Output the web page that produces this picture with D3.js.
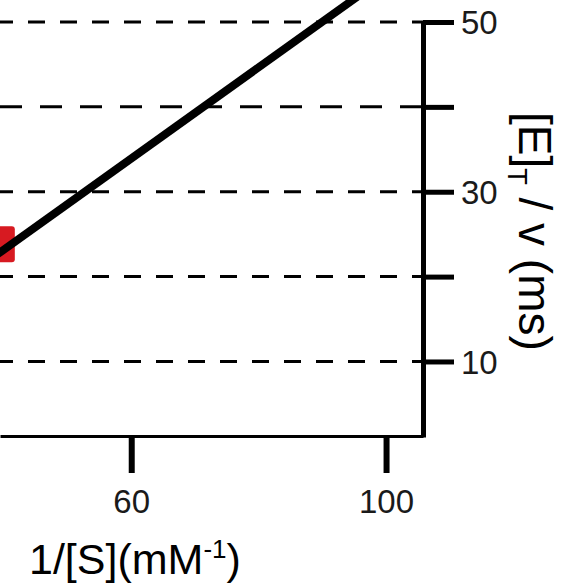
<!DOCTYPE html>
<html>
<head>
<meta charset="utf-8">
<script src="https://cdn.jsdelivr.net/npm/d3@7"></script>
<style>
  body { margin: 0; background: #fff; }
  svg { display: block; font-family: "Liberation Sans", Arial, sans-serif; }
</style>
</head>
<body>
<div id="chart"></div>
<script>
// data
var yTickValues = [10, 20, 30, 40, 50];
var yTickLabels = ["10", "", "30", "", "50"];
var xTickValues = [60, 100];
var xTickLabels = ["60", "100"];

// measured point (red square)
var pointX = [38.9];
var pointY = [23.8];

// fitted line, two ends (clipped by the page)
var fitX = [30, 100];
var fitY = [17.8, 55.4];

var svgWidth = 570;
var svgHeight = 584;

var svg = d3.select("#chart")
  .append("svg")
  .attr("width", svgWidth)
  .attr("height", svgHeight);

svg.append("rect")
  .attr("width", svgWidth)
  .attr("height", svgHeight)
  .attr("fill", "#fff");

// scales: the visible part of the plot is only the right end of the figure
var axisX = 423;   // where the y axis sits
var axisY = 436;   // where the x axis sits

var xScale = d3.scaleLinear().domain([39.4, 105.8]).range([0, axisX]);
var yScale = d3.scaleLinear().domain([1.1, 50]).range([437, 22]);

// dashed grid lines
svg.append("g")
  .selectAll("line")
  .data(yTickValues)
  .enter()
  .append("line")
  .attr("x1", 0)
  .attr("x2", axisX)
  .attr("y1", d => yScale(d))
  .attr("y2", d => yScale(d))
  .attr("stroke", "#000")
  .attr("stroke-width", 3)
  .attr("stroke-dasharray", d => d === 40 ? "22,18" : "17,15")
  .attr("stroke-dashoffset", d => d === 40 ? 0 : 4);

// x axis
var bottomAxis = d3.axisBottom(xScale)
  .tickValues(xTickValues)
  .tickFormat((d, i) => xTickLabels[i])
  .tickSize(37)
  .tickSizeOuter(0)
  .tickPadding(17);

var xg = svg.append("g")
  .attr("transform", `translate(0, ${axisY})`)
  .call(bottomAxis);
xg.select(".domain").attr("stroke", "#000").attr("stroke-width", 3);
xg.selectAll(".tick line").attr("stroke", "#000").attr("stroke-width", 6);
xg.selectAll(".tick text")
  .attr("fill", "#1a1a1a")
  .style("font-size", "33px")
  .style("font-family", "'Liberation Sans', Arial, sans-serif");

// y axis on the right
var rightAxis = d3.axisRight(yScale)
  .tickValues(yTickValues)
  .tickFormat((d, i) => yTickLabels[i])
  .tickSize(31)
  .tickSizeOuter(0)
  .tickPadding(7);

var yg = svg.append("g")
  .attr("transform", `translate(${axisX}, 0)`)
  .call(rightAxis);
yg.select(".domain").attr("stroke", "#000").attr("stroke-width", 5);
yg.selectAll(".tick line").attr("stroke", "#000").attr("stroke-width", 5);
yg.selectAll(".tick text")
  .attr("fill", "#1a1a1a")
  .attr("dy", "0.36em")
  .style("font-size", "33px")
  .style("font-family", "'Liberation Sans', Arial, sans-serif");

// red data point
svg.append("g")
  .selectAll("rect")
  .data(pointX)
  .enter()
  .append("rect")
  .attr("x", (d, i) => xScale(d) - 18)
  .attr("y", (d, i) => yScale(pointY[i]) - 18)
  .attr("width", 36)
  .attr("height", 36)
  .attr("rx", 3)
  .attr("fill", "#d71a21");

// fit line
var line = d3.line()
  .x(d => xScale(d[0]))
  .y(d => yScale(d[1]));

svg.append("path")
  .datum(fitX.map((d, i) => [d, fitY[i]]))
  .attr("d", line)
  .attr("fill", "none")
  .attr("stroke", "#000")
  .attr("stroke-width", 8);

// axis titles
var xTitle = svg.append("text")
  .attr("x", 29)
  .attr("y", 574)
  .style("font-size", "43px")
  .attr("fill", "#000");
xTitle.append("tspan").text("1/[S](mM");
xTitle.append("tspan").attr("dy", -16).style("font-size", "26px").text("-1");
xTitle.append("tspan").attr("dy", 16).text(")");

var yTitle = svg.append("text")
  .attr("transform", "translate(519, 112) rotate(90)")
  .style("font-size", "46px")
  .attr("fill", "#000");
yTitle.append("tspan").text("[E]");
yTitle.append("tspan").attr("dy", 11).style("font-size", "27px").text("T");
yTitle.append("tspan").attr("dy", -11).text(" / v (ms)");
</script>
</body>
</html>
